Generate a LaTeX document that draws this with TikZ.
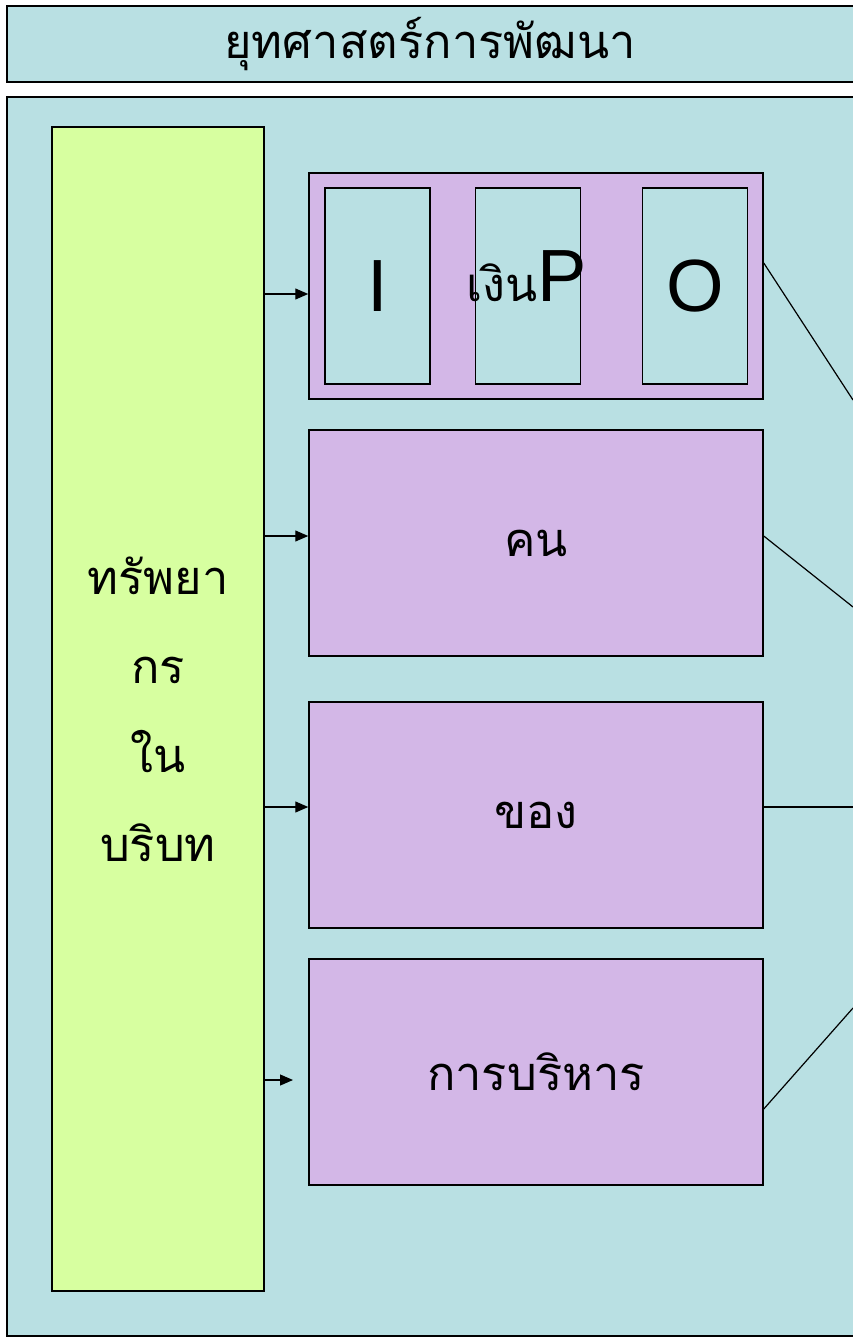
\documentclass[tikz,border=0pt]{standalone}
\usepackage{fontspec}
\setmainfont{Liberation Sans}
\newfontfamily\thaifont[Script=Thai]{Loma}
\usetikzlibrary{arrows.meta}
\definecolor{panelblue}{HTML}{B9E0E3}
\definecolor{leafgreen}{HTML}{D7FFA0}
\definecolor{lilac}{HTML}{D3B7E7}
\begin{document}
\begin{tikzpicture}[x=1pt, y=-1pt,
    panel/.style={draw=black, line width=1.5pt, fill=panelblue},
    thai/.style={font=\thaifont\fontsize{47}{89}\selectfont},
    resource/.style={rectangle, draw=black, line width=1.5pt, fill=leafgreen,
        minimum width=212pt, minimum height=1164pt, inner sep=0pt,
        align=center, thai},
    part/.style={rectangle, draw=black, line width=1.5pt, fill=lilac,
        minimum width=454pt, minimum height=226pt, inner sep=0pt, thai},
    stage/.style={rectangle, draw=black, line width=1.2pt, fill=panelblue,
        minimum width=105pt, minimum height=196pt, inner sep=0pt,
        font=\fontsize{74}{80}\selectfont},
    arrow/.style={line width=1.2pt, -{Triangle[length=13pt, width=11pt]}},
    link/.style={line width=1.2pt, -}
]
    \clip (0,0) rectangle (853,1337);
    % panels
    \fill[white] (0,0) rectangle (853,1337);
    \draw[panel] (7,6) rectangle (880,82);
    \draw[panel] (7,97) rectangle (880,1336);
    \node[thai] (title) at (430,44) {ยุทศาสตร์การพัฒนา};
    % resources
    \node[resource] (res) at (158,709) {ทรัพยา\\กร\\ใน\\บริบท};
    \node[part] (ipo) at (536,286) {};
    \node[stage] (i) at (377.5,286) {I};
    \node[stage] (p) at (528,286) {};
    \node[stage] (o) at (695,286) {O};
    \node[font=\fontsize{74}{80}\selectfont] (ptext) at (527,276) {{\thaifont\fontsize{47}{50}\selectfont เงิน}P};
    \node[part] (people) at (536,543) {คน};
    \node[part] (things) at (536,815) {ของ};
    \node[part] (admin) at (536,1072) {การบริหาร};
    % arrows
    \draw[arrow] (res.east |- 0,294) -- (ipo.west |- 0,294);
    \draw[arrow] (res.east |- 0,536) -- (people.west |- 0,536);
    \draw[arrow] (res.east |- 0,807) -- (things.west |- 0,807);
    \draw[arrow] (res.east |- 0,1080) -- (293,1080);
    % links to the right
    \coordinate (e1) at (853,400);
    \coordinate (e2) at (853,607);
    \coordinate (e3) at (853,807);
    \coordinate (e4) at (853,1008);
    \draw[link] (ipo.east |- 0,263) -- (e1);
    \draw[link] (people.east |- 0,536) -- (e2);
    \draw[link] (things.east |- 0,807) -- (e3);
    \draw[link] (admin.east |- 0,1109) -- (e4);
\end{tikzpicture}
\end{document}
